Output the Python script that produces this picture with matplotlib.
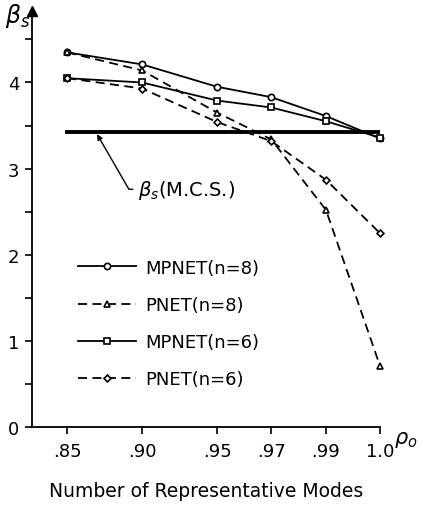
import numpy as np
import matplotlib
matplotlib.use('Agg')
import matplotlib.pyplot as plt
from matplotlib.lines import Line2D

plt.rcParams['font.family'] = ['DejaVu Sans']
plt.rcParams['mathtext.fontset'] = 'dejavusans'

# representative-mode levels (rho_0) and their slot on the (non-uniform) axis
rho_labels = ['.85', '.90', '.95', '.97', '.99', '1.0']
x_slots = [0.0, 1.0, 2.0, 2.72, 3.45, 4.17]

mpnet_n8 = [4.35, 4.21, 3.95, 3.83, 3.61, 3.35]
pnet_n8 = [4.35, 4.14, 3.65, 3.34, 2.52, 0.71]
mpnet_n6 = [4.05, 4.00, 3.79, 3.71, 3.55, 3.36]
pnet_n6 = [4.05, 3.93, 3.54, 3.32, 2.87, 2.25]
beta_mcs = 3.43

series = [
    ('MPNET(n=8)', mpnet_n8, '-', 'o'),
    ('PNET(n=8)', pnet_n8, '--', '^'),
    ('MPNET(n=6)', mpnet_n6, '-', 's'),
    ('PNET(n=6)', pnet_n6, '--', 'D'),
]

fig = plt.figure(figsize=(4.23, 5.06), dpi=100)
ax = fig.add_axes([32 / 423, 78 / 506, 348 / 423, 416 / 506])

handles = []
for name, vals, ls, mk in series:
    ms = 4.5 if mk != 'D' else 3.5
    dash = (5, 3) if ls == '--' else (None, None)
    ax.plot(x_slots, vals, color='black', ls=ls, lw=1.3, dashes=dash,
            marker=mk, ms=ms, mfc='white', mec='black', mew=1.2, clip_on=False, zorder=3)
    handles.append(Line2D([], [], color='black', ls=ls, lw=1.3, dashes=dash,
                          marker=mk, ms=ms, mfc='white', mec='black', mew=1.2))

ax.plot([x_slots[0], x_slots[-1]], [beta_mcs, beta_mcs], color='black', lw=2.8, zorder=2)

ax.annotate(r'$\beta_s$(M.C.S.)', xy=(0.4, beta_mcs - 0.03), xytext=(0.95, 2.76),
            fontsize=14, va='center', ha='left',
            arrowprops=dict(arrowstyle='-|>', color='black', lw=1.0, mutation_scale=8,
                            shrinkA=2, shrinkB=0,
                            connectionstyle='angle,angleA=0,angleB=120,rad=0'))

ax.legend(handles, [s[0] for s in series], loc='upper left', bbox_to_anchor=(0.132, 0.405),
          frameon=False, fontsize=13, handlelength=3.2, handletextpad=0.55,
          labelspacing=1.07, borderaxespad=0, borderpad=0, numpoints=1)

ax.set_xlim(-0.467, x_slots[-1])
ax.set_ylim(0, 4.83)
ax.set_xticks(x_slots)
ax.set_xticklabels(rho_labels)
ax.set_yticks([0, 1, 2, 3, 4])
ax.set_yticks(np.arange(0.5, 4.6, 1.0), minor=True)
ax.tick_params(axis='both', which='both', direction='out', length=5, width=1.2,
               labelsize=13, colors='black')
ax.tick_params(axis='x', pad=6)
ax.tick_params(axis='y', pad=4)

for side in ['top', 'right']:
    ax.spines[side].set_visible(False)
for side in ['left', 'bottom']:
    ax.spines[side].set_linewidth(1.3)

# arrow head on the y axis
ax.plot(0, 1, marker='^', ms=7, color='black', transform=ax.transAxes, clip_on=False)

ax.text(-0.005, 0.99, r'$\beta_s$', transform=ax.transAxes, fontsize=17,
        ha='right', va='center')
ax.text(1.04, -0.005, r'$\rho_o$', transform=ax.transAxes, fontsize=15, ha='left', va='top')

ax.set_xlabel('Number of Representative Modes', fontsize=13.5, labelpad=15)

fig.savefig('out.png', dpi=100)
